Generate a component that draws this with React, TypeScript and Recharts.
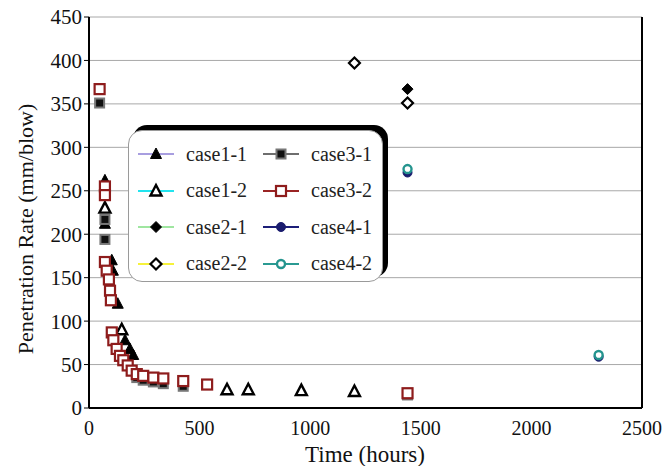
import React from "react";
import {
  CartesianGrid,
  Legend,
  ReferenceLine,
  Scatter,
  ScatterChart,
  XAxis,
  YAxis
} from "recharts";

const xTicks = [0, 500, 1000, 1500, 2000, 2500];
const yTicks = [0, 50, 100, 150, 200, 250, 300, 350, 400, 450];

// hours / mm per blow
const case11Time = [72, 72, 103, 108, 130, 163, 185, 200];
const case11Rate = [262, 212, 170, 158, 120, 78, 68, 61];

const case12Time = [72, 148, 624, 720, 960, 1200];
const case12Rate = [230, 90, 21, 21, 20, 19];

const case21Time = [1440];
const case21Rate = [367];

const case22Time = [1200, 1440];
const case22Rate = [397, 351];

const case31Time = [48, 72, 72, 216, 245, 291, 336, 426, 1440];
const case31Rate = [351, 217, 194, 35, 32, 30, 28, 25, 15];

const case32Time = [48, 72, 72, 72, 80, 90, 95, 99, 103, 110, 125, 140, 155, 175, 193, 216, 245, 291, 336, 426, 534, 1440];
const case32Rate = [367, 255, 245, 168, 158, 148, 135, 124, 87, 78, 68, 60, 55, 49, 43, 39, 37, 35, 34, 31, 27, 17];

const case41Time = [1440, 2304];
const case41Rate = [271, 59];

const case42Time = [1440, 2304];
const case42Rate = [275, 61];

const toPoints = (t: number[], r: number[]) => t.map((time, i) => ({ time, rate: r[i] }));

type Kind = "triFill" | "triOpen" | "diaFill" | "diaOpen" | "sqFill" | "sqOpen" | "cirFill" | "cirOpen";

const series: Array<{ name: string; kind: Kind; line: string; data: Array<{ time: number; rate: number }> }> = [
  { name: "case1-1", kind: "triFill", line: "#a89ee0", data: toPoints(case11Time, case11Rate) },
  { name: "case1-2", kind: "triOpen", line: "#22e4ef", data: toPoints(case12Time, case12Rate) },
  { name: "case2-1", kind: "diaFill", line: "#9fe6a0", data: toPoints(case21Time, case21Rate) },
  { name: "case2-2", kind: "diaOpen", line: "#f6f23a", data: toPoints(case22Time, case22Rate) },
  { name: "case3-1", kind: "sqFill", line: "#6e6e6e", data: toPoints(case31Time, case31Rate) },
  { name: "case3-2", kind: "sqOpen", line: "#9a2424", data: toPoints(case32Time, case32Rate) },
  { name: "case4-1", kind: "cirFill", line: "#1c1e78", data: toPoints(case41Time, case41Rate) },
  { name: "case4-2", kind: "cirOpen", line: "#2a9a92", data: toPoints(case42Time, case42Rate) }
];

function Marker({ kind, cx, cy }: { kind: Kind; cx: number; cy: number }) {
  switch (kind) {
    case "triFill":
    case "triOpen": {
      const pts = `${cx},${cy - 6} ${cx - 5.5},${cy + 4.5} ${cx + 5.5},${cy + 4.5}`;
      return kind === "triFill" ? (
        <polygon points={pts} fill="#000" stroke="#000" strokeWidth={1} />
      ) : (
        <polygon points={pts} fill="#fff" stroke="#000" strokeWidth={2.4} strokeLinejoin="miter" />
      );
    }
    case "diaFill":
    case "diaOpen": {
      const pts = `${cx},${cy - 5.5} ${cx + 5.5},${cy} ${cx},${cy + 5.5} ${cx - 5.5},${cy}`;
      return kind === "diaFill" ? (
        <polygon points={pts} fill="#000" stroke="#000" strokeWidth={1} />
      ) : (
        <polygon points={pts} fill="#fff" stroke="#000" strokeWidth={2.2} />
      );
    }
    case "sqFill":
      return <rect x={cx - 4.5} y={cy - 4.5} width={9} height={9} fill="#111" stroke="#777" strokeWidth={2} />;
    case "sqOpen":
      return <rect x={cx - 5} y={cy - 5} width={10} height={10} fill="#fff" stroke="#8e1c1c" strokeWidth={2.2} />;
    case "cirFill":
      return <circle cx={cx} cy={cy} r={4.5} fill="#1a1c6e" stroke="#1a1c6e" strokeWidth={1} />;
    default:
      return <circle cx={cx} cy={cy} r={4} fill="#fff" stroke="#24948e" strokeWidth={2.4} />;
  }
}

const serif = '"Liberation Serif", "Times New Roman", serif';

function LegendBox() {
  const col1 = series.slice(0, 4);
  const col2 = series.slice(4);
  const item = (s: (typeof series)[number]) => (
    <div key={s.name} style={{ display: "flex", alignItems: "center", height: 36.5 }}>
      <svg width={36} height={16} style={{ overflow: "visible" }}>
        <line x1={0} y1={8} x2={36} y2={8} stroke={s.line} strokeWidth={2} />
        <Marker kind={s.kind} cx={18} cy={8} />
      </svg>
      <span style={{ marginLeft: 12, fontFamily: serif, fontSize: 20, color: "#222" }}>{s.name}</span>
    </div>
  );
  return (
    <div
      style={{
        width: 255,
        height: 152,
        boxSizing: "border-box",
        background: "#fff",
        border: "1px solid #9a9a9a",
        borderRadius: 14,
        boxShadow: "5px -5px 0 0 #000",
        display: "flex",
        padding: "5px 0 0 9px"
      }}
    >
      <div style={{ width: 125 }}>{col1.map(item)}</div>
      <div>{col2.map(item)}</div>
    </div>
  );
}

export default function App() {
  return (
    <div style={{ position: "absolute", left: 0, top: 0, width: 664, height: 466, background: "#fff" }}>
      <ScatterChart width={664} height={466} margin={{ top: 17, right: 22, bottom: 28, left: 29 }}>
        <CartesianGrid vertical={false} stroke="#a8a8a8" />
        <XAxis
          type="number"
          dataKey="time"
          domain={[0, 2500]}
          ticks={xTicks}
          height={30}
          tickLine={false}
          tickMargin={7}
          axisLine={{ stroke: "#000", strokeWidth: 2 }}
          tick={{ fill: "#111", fontSize: 20, fontFamily: serif }}
          label={{
            content: () => (
              <text x={365} y={462} textAnchor="middle" fontSize={23} fontFamily={serif} fill="#111">
                Time (hours)
              </text>
            )
          }}
        />
        <YAxis
          type="number"
          dataKey="rate"
          domain={[0, 450]}
          ticks={yTicks}
          width={60}
          tickSize={5}
          tickMargin={2}
          tickLine={{ stroke: "#000" }}
          axisLine={{ stroke: "#000", strokeWidth: 2 }}
          tick={{ fill: "#111", fontSize: 21, fontFamily: serif }}
          label={{
            content: () => (
              <text
                x={25}
                y={229}
                dy="0.35em"
                textAnchor="middle"
                transform="rotate(-90, 25, 229)"
                fontSize={22}
                fontFamily={serif}
                fill="#111"
              >
                Penetration Rate (mm/blow)
              </text>
            )
          }}
        />
        <ReferenceLine x={2500} stroke="#000" strokeWidth={2} />
        <Legend
          layout="horizontal"
          verticalAlign="middle"
          align="center"
          wrapperStyle={{ left: 128, top: 130, width: 260 }}
          content={() => <LegendBox />}
        />
        {series.map((s) => (
          <Scatter
            key={s.name}
            name={s.name}
            data={s.data}
            isAnimationActive={false}
            shape={(p: any) => <Marker kind={s.kind} cx={p.cx} cy={p.cy} />}
          />
        ))}
      </ScatterChart>
    </div>
  );
}
